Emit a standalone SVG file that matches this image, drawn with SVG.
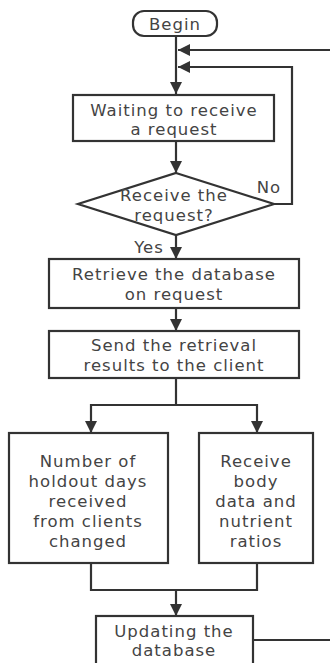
<svg xmlns="http://www.w3.org/2000/svg" width="330" height="663" viewBox="0 0 330 663">
<style>
.n{fill:#fff;stroke:#333;stroke-width:2.2}
.c{fill:none;stroke:#333;stroke-width:2.2}
text{font-family:"DejaVu Sans","Open Sans",sans-serif;font-size:16.5px;letter-spacing:1px;fill:#444;text-anchor:middle}
</style>
<defs>
<marker id="a" viewBox="0 0 10 10" refX="10" refY="5" markerWidth="5.5" markerHeight="5.5" orient="auto" markerUnits="strokeWidth">
<path d="M0,0L10,5L0,10z" fill="#333"/>
</marker>
</defs>
<rect width="330" height="663" fill="#fff"/>
<g id="connectors">
<path class="c" d="M176,37V94" marker-end="url(#a)"/>
<path class="c" d="M330,50H178" marker-end="url(#a)"/>
<path class="c" d="M274,204H292V67H178" marker-end="url(#a)"/>
<path class="c" d="M176,141V173" marker-end="url(#a)"/>
<path class="c" d="M176,235V259" marker-end="url(#a)"/>
<path class="c" d="M176,308V331" marker-end="url(#a)"/>
<path class="c" d="M176,378V405"/>
<path class="c" d="M91,405H257"/>
<path class="c" d="M91,404V433" marker-end="url(#a)"/>
<path class="c" d="M257,404V433" marker-end="url(#a)"/>
<path class="c" d="M91,563V590H257V563"/>
<path class="c" d="M176,589V616" marker-end="url(#a)"/>
<path class="c" d="M253,640H330"/>
<text x="149" y="253">Yes</text>
<text x="269" y="193">No</text>
</g>
<g id="begin">
<rect class="n" x="133" y="11" width="84" height="25" rx="11"/>
<text x="175" y="30">Begin</text>
</g>
<g id="wait">
<rect class="n" x="73" y="95" width="201" height="46"/>
<text x="174" y="116">Waiting to receive</text>
<text x="174" y="135">a request</text>
</g>
<g id="decision">
<path class="n" d="M176,173L274,204L176,235L78,204z"/>
<text x="174" y="201">Receive the</text>
<text x="174" y="221">request?</text>
</g>
<g id="retrieve">
<rect class="n" x="49" y="259" width="250" height="49"/>
<text x="174" y="280">Retrieve the database</text>
<text x="174" y="300">on request</text>
</g>
<g id="send">
<rect class="n" x="49" y="331" width="250" height="47"/>
<text x="174" y="351">Send the retrieval</text>
<text x="174" y="371">results to the client</text>
</g>
<g id="holdout">
<rect class="n" x="9" y="433" width="159" height="130"/>
<text x="88" y="467">Number of</text>
<text x="88" y="487">holdout days</text>
<text x="88" y="507">received</text>
<text x="88" y="527">from clients</text>
<text x="88" y="547">changed</text>
</g>
<g id="body">
<rect class="n" x="199" y="433" width="114" height="130"/>
<text x="256" y="467">Receive</text>
<text x="256" y="487">body</text>
<text x="256" y="507">data and</text>
<text x="256" y="527">nutrient</text>
<text x="256" y="547">ratios</text>
</g>
<g id="update">
<rect class="n" x="96" y="616" width="157" height="60"/>
<text x="174" y="637">Updating the</text>
<text x="174" y="656">database</text>
</g>
</svg>
